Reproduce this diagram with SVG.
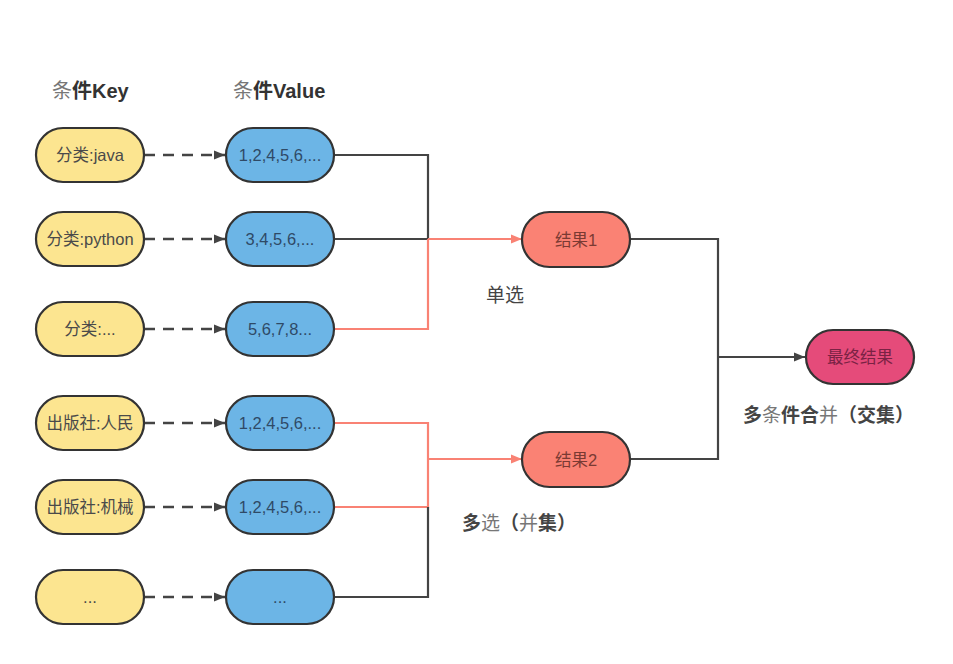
<svg xmlns="http://www.w3.org/2000/svg" width="953" height="664" viewBox="0 0 953 664">
<defs>
<marker id="ad" viewBox="0 0 10 10" refX="10" refY="5" markerWidth="11" markerHeight="11" markerUnits="userSpaceOnUse" orient="auto"><path d="M0,1 L10,5 L0,9 z" fill="#444"/></marker>
<marker id="ar" viewBox="0 0 10 10" refX="10" refY="5" markerWidth="11" markerHeight="11" markerUnits="userSpaceOnUse" orient="auto"><path d="M0,1 L10,5 L0,9 z" fill="#f98274"/></marker>
</defs>
<style>
text{font-family:"Liberation Sans","Noto Sans CJK SC",sans-serif;}
.n{stroke:#333;stroke-width:2.2}
.k{fill:#fce590}
.v{fill:#6cb5e6}
.r{fill:#fa8274}
.f{fill:#e54b7a}
.t{font-size:16.5px;fill:#4a4a4a;text-anchor:middle;dominant-baseline:central}
.tv{fill:#2f4a66}
.tr{fill:#7a3a33}
.tf{fill:#7a2244}
.h{font-size:20px;font-weight:bold;fill:#333}
.lbl{font-size:19px;fill:#444}
.b{font-weight:bold}
.lt{font-weight:normal;fill:#777}
.dash{stroke:#444;stroke-width:2.5;stroke-dasharray:11 8;fill:none}
.bl{stroke:#444;stroke-width:2.2;fill:none}
.rd{stroke:#f98274;stroke-width:2.2;fill:none}
</style>
<rect width="953" height="664" fill="#fff"/>
<text class="h" x="52" y="98"><tspan class="lt" style="font-weight:normal">条</tspan>件Key</text>
<text class="h" x="233" y="98"><tspan class="lt" style="font-weight:normal">条</tspan>件Value</text>
<g id="connectors">
<path class="dash" d="M144,155 H225" marker-end="url(#ad)"/>
<path class="dash" d="M144,239 H225" marker-end="url(#ad)"/>
<path class="dash" d="M144,329 H225" marker-end="url(#ad)"/>
<path class="dash" d="M144,423 H225" marker-end="url(#ad)"/>
<path class="dash" d="M144,507 H225" marker-end="url(#ad)"/>
<path class="dash" d="M144,597 H225" marker-end="url(#ad)"/>
<path class="bl" d="M334,155 H428 V239"/>
<path class="bl" d="M334,239 H428"/>
<path class="rd" d="M334,329 H428 V239"/>
<path class="rd" d="M428,239 H522" marker-end="url(#ar)"/>
<path class="rd" d="M334,423 H428 V507 H334"/>
<path class="rd" d="M428,459 H522" marker-end="url(#ar)"/>
<path class="bl" d="M334,597 H428 V507"/>
<path class="bl" d="M630,239 H718 V459 H630"/>
<path class="bl" d="M718,357 H805" marker-end="url(#ad)"/>
</g>
<g id="k1"><rect class="n k" x="36" y="128" width="108" height="54" rx="27"/><text class="t" x="90" y="155">分类:java</text></g>
<g id="k2"><rect class="n k" x="36" y="212" width="108" height="54" rx="27"/><text class="t" x="90" y="239">分类:python</text></g>
<g id="k3"><rect class="n k" x="36" y="302" width="108" height="54" rx="27"/><text class="t" x="90" y="329">分类:...</text></g>
<g id="k4"><rect class="n k" x="36" y="396" width="108" height="54" rx="27"/><text class="t" x="90" y="423">出版社:人民</text></g>
<g id="k5"><rect class="n k" x="36" y="480" width="108" height="54" rx="27"/><text class="t" x="90" y="507">出版社:机械</text></g>
<g id="k6"><rect class="n k" x="36" y="570" width="108" height="54" rx="27"/><text class="t" x="90" y="597">...</text></g>
<g id="v1"><rect class="n v" x="226" y="128" width="108" height="54" rx="27"/><text class="t tv" x="280" y="155">1,2,4,5,6,...</text></g>
<g id="v2"><rect class="n v" x="226" y="212" width="108" height="54" rx="27"/><text class="t tv" x="280" y="239">3,4,5,6,...</text></g>
<g id="v3"><rect class="n v" x="226" y="302" width="108" height="54" rx="27"/><text class="t tv" x="280" y="329">5,6,7,8...</text></g>
<g id="v4"><rect class="n v" x="226" y="396" width="108" height="54" rx="27"/><text class="t tv" x="280" y="423">1,2,4,5,6,...</text></g>
<g id="v5"><rect class="n v" x="226" y="480" width="108" height="54" rx="27"/><text class="t tv" x="280" y="507">1,2,4,5,6,...</text></g>
<g id="v6"><rect class="n v" x="226" y="570" width="108" height="54" rx="27"/><text class="t tv" x="280" y="597">...</text></g>
<g id="r1"><rect class="n r" x="522" y="212" width="108" height="55" rx="27.5"/><text class="t tr" x="576" y="239.5">结果1</text></g>
<g id="r2"><rect class="n r" x="522" y="432" width="108" height="55" rx="27.5"/><text class="t tr" x="576" y="459.5">结果2</text></g>
<g id="final"><rect class="n f" x="806" y="330" width="108" height="54" rx="27"/><text class="t tf" x="860" y="357">最终结果</text></g>
<text class="lbl" x="486" y="302" fill="#555">单选</text>
<text class="lbl" x="462" y="530"><tspan class="b">多</tspan><tspan class="lt">选</tspan><tspan class="b">（</tspan><tspan class="lt">并</tspan><tspan class="b">集）</tspan></text>
<text class="lbl" x="743" y="422"><tspan class="b">多</tspan><tspan class="lt">条</tspan><tspan class="b">件合</tspan><tspan class="lt">并</tspan><tspan class="b">（交集）</tspan></text>
</svg>
